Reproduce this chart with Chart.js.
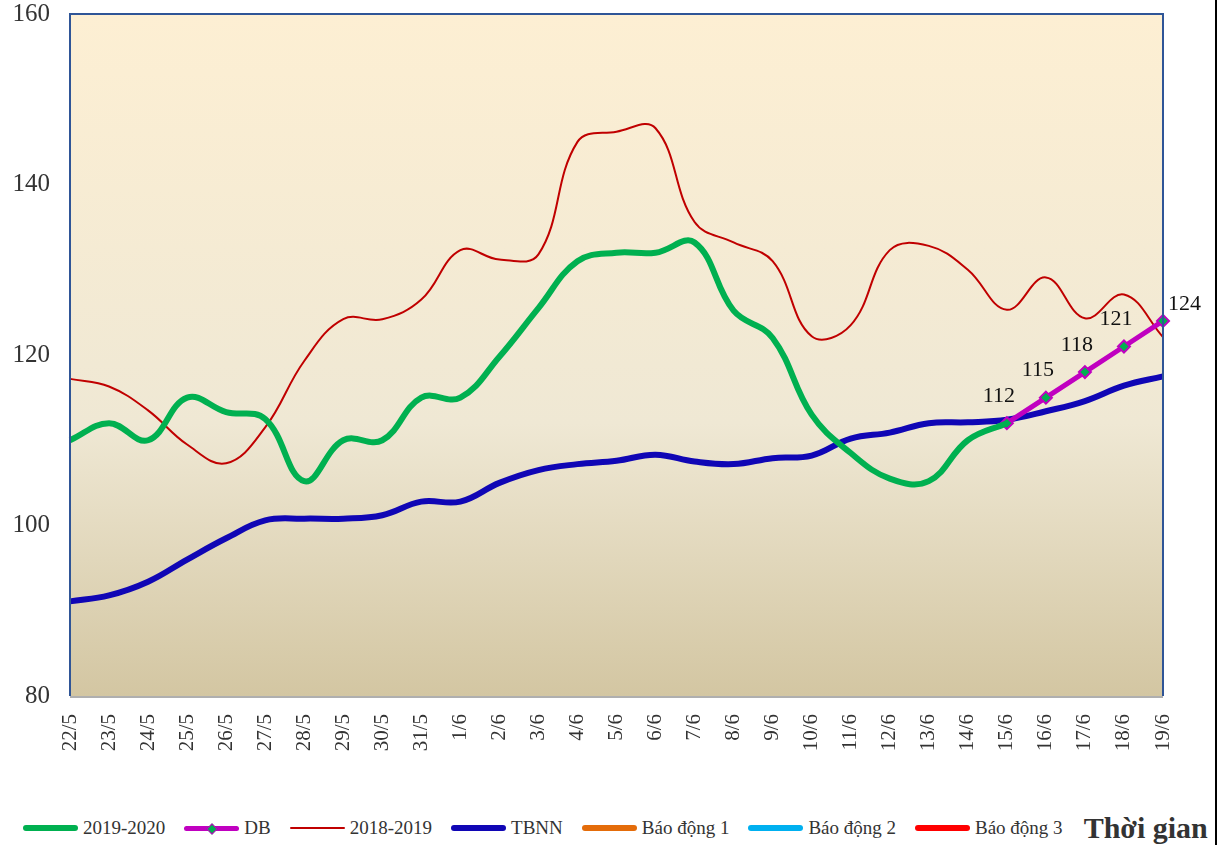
<!DOCTYPE html>
<html>
<head>
<meta charset="utf-8">
<script src="https://cdn.jsdelivr.net/npm/chart.js@4/dist/chart.umd.min.js"></script>
<style>
  html, body { margin: 0; padding: 0; background: #fff; }
  body { width: 1227px; height: 845px; position: relative; overflow: hidden; font-family: "Liberation Serif", "Times New Roman", serif; }
  #wrap { position: absolute; left: 0; top: 0; width: 1227px; height: 800px; }
  #frame { position: absolute; left: 1215px; top: 0; width: 2px; height: 845px; background: #000; }
  #legend { position: absolute; left: 23px; top: 813px; height: 30px; display: flex; align-items: center; gap: 19px; color: #333; font-size: 19px; white-space: nowrap; }
  .item { display: flex; align-items: center; gap: 5px; }
  .swatch { position: relative; width: 55px; border-radius: 4px; }
  .diamond { position: absolute; left: 24px; top: 50%; width: 6px; height: 6px; margin-top: -3px; transform: rotate(45deg); background: #00B050; border: 1px solid #C000C0; }
  .title { font-weight: bold; font-size: 30px; color: #333; margin-left: 2px; }
</style>
</head>
<body>
<div id="wrap"><canvas id="chart"></canvas></div>
<div id="frame"></div>
<div id="legend"></div>
<script>
const dates = ['22/5', '23/5', '24/5', '25/5', '26/5', '27/5', '28/5', '29/5', '30/5', '31/5',
  '1/6', '2/6', '3/6', '4/6', '5/6', '6/6', '7/6', '8/6', '9/6', '10/6',
  '11/6', '12/6', '13/6', '14/6', '15/6', '16/6', '17/6', '18/6', '19/6'];

const level2020 = [110, 112, 110, 115, 113.3, 112.5, 105.2, 110, 110, 115,
  115, 119.8, 125.5, 131, 132, 132, 133.2, 125.2, 122, 113,
  108.5, 105.5, 105.2, 110, 112, null, null, null, null];

const forecastDB = [null, null, null, null, null, null, null, null, null, null,
  null, null, null, null, null, null, null, null, null, null,
  null, null, null, null, 112, 115, 118, 121, 124];

const level2019 = [117.2, 116.3, 113.5, 109.5, 107.3, 111.5, 119.3, 124.2, 124.2, 126.5,
  132.3, 131.2, 131.8, 145, 146.2, 146.6, 135.6, 133.2, 131, 122.2,
  123.5, 132.3, 132.8, 130, 125.3, 129.1, 124.3, 127.1, 122.1];

const avgTBNN = [91.1, 91.8, 93.4, 96, 98.5, 100.6, 100.8, 100.8, 101.2, 102.8,
  102.8, 105, 106.5, 107.2, 107.6, 108.3, 107.5, 107.2, 107.9, 108.2,
  110.2, 110.9, 112, 112.1, 112.4, 113.4, 114.6, 116.4, 117.5];

// alarm levels lie above the plotted range, they only show in the legend
const alarm1 = [];
const alarm2 = [];
const alarm3 = [];

const yTicks = [80, 100, 120, 140, 160];
const xTitle = 'Thời gian';

const bgPlugin = {
  id: 'plotBg',
  beforeDraw(chart) {
    const { ctx, chartArea: a } = chart;
    const g = ctx.createLinearGradient(0, a.top, 0, a.bottom);
    g.addColorStop(0, '#FDEFD3');
    g.addColorStop(0.6, '#EFE8D4');
    g.addColorStop(1, '#D3C6A2');
    ctx.save();
    ctx.fillStyle = g;
    ctx.fillRect(a.left, a.top, a.right - a.left, a.bottom - a.top);
    ctx.restore();
  },
  afterDraw(chart) {
    const { ctx, chartArea: a } = chart;
    ctx.save();
    ctx.lineWidth = 2;
    ctx.strokeStyle = '#AFAFAF';
    ctx.beginPath();
    ctx.moveTo(a.left, a.bottom + 1);
    ctx.lineTo(a.right, a.bottom + 1);
    ctx.stroke();
    ctx.strokeStyle = '#2F5597';
    ctx.beginPath();
    ctx.moveTo(a.left, a.bottom);
    ctx.lineTo(a.left, a.top);
    ctx.lineTo(a.right, a.top);
    ctx.lineTo(a.right, a.bottom);
    ctx.stroke();
    ctx.restore();
  }
};

// value labels next to the DB forecast points
const dbLabels = {
  id: 'dbLabels',
  afterDatasetsDraw(chart) {
    const { ctx } = chart;
    const meta = chart.getDatasetMeta(1);
    const last = forecastDB.length - 1;
    ctx.save();
    ctx.font = '22px "Liberation Serif"';
    ctx.fillStyle = '#111';
    ctx.textBaseline = 'bottom';
    forecastDB.forEach((v, i) => {
      if (v === null) return;
      const p = meta.data[i];
      if (i === last) {
        ctx.textAlign = 'left';
        ctx.fillText(String(v), p.x + 5, p.y - 6);
      } else {
        ctx.textAlign = 'center';
        ctx.fillText(String(v), p.x - 8, p.y - 16);
      }
    });
    ctx.restore();
  }
};

const chart = new Chart(document.getElementById('chart'), {
  type: 'line',
  data: {
    labels: dates,
    datasets: [
      { label: '2019-2020', data: level2020, borderColor: '#00B050', borderWidth: 6, pointRadius: 0, tension: 0.4 },
      { label: 'DB', data: forecastDB, borderColor: '#C000C0', borderWidth: 5, tension: 0,
        pointStyle: 'rectRot', pointRadius: 6, pointBackgroundColor: '#00B050', pointBorderColor: '#C000C0', pointBorderWidth: 2 },
      { label: '2018-2019', data: level2019, borderColor: '#C00000', borderWidth: 2, pointRadius: 0, tension: 0.4 },
      { label: 'TBNN', data: avgTBNN, borderColor: '#1006B5', borderWidth: 6, pointRadius: 0, tension: 0.4 },
      { label: 'Báo động 1', data: alarm1, borderColor: '#E46C0A', borderWidth: 6, pointRadius: 0 },
      { label: 'Báo động 2', data: alarm2, borderColor: '#00B0F0', borderWidth: 6, pointRadius: 0 },
      { label: 'Báo động 3', data: alarm3, borderColor: '#FF0000', borderWidth: 6, pointRadius: 0 }
    ]
  },
  options: {
    responsive: true,
    maintainAspectRatio: false,
    animation: false,
    layout: { padding: { top: 14, right: 64, left: 0, bottom: 0 } },
    plugins: { legend: { display: false }, tooltip: { enabled: false } },
    scales: {
      x: {
        offset: false,
        grid: { display: false, drawTicks: false },
        border: { display: false },
        ticks: { maxRotation: 90, minRotation: 90, autoSkip: false, padding: 18, color: '#333',
          font: { family: 'Liberation Serif', size: 21 } },
        afterFit(scale) { scale.height = 104; scale.paddingLeft = 0; scale.paddingRight = 0; }
      },
      y: {
        min: 80, max: 160,
        afterBuildTicks(scale) { scale.ticks = yTicks.map(v => ({ value: v })); },
        grid: { display: false, drawTicks: false },
        border: { display: false },
        ticks: { padding: 20, color: '#333', font: { family: 'Liberation Serif', size: 25 } },
        afterFit(scale) { scale.width = 70; scale.paddingTop = 0; scale.paddingBottom = 0; }
      }
    }
  },
  plugins: [bgPlugin, dbLabels]
});

// html legend built from the datasets
const legend = document.getElementById('legend');
chart.data.datasets.forEach(ds => {
  const item = document.createElement('div');
  item.className = 'item';
  const sw = document.createElement('span');
  sw.className = 'swatch';
  sw.style.height = ds.borderWidth + 'px';
  sw.style.background = ds.borderColor;
  if (ds.pointStyle === 'rectRot') {
    const d = document.createElement('span');
    d.className = 'diamond';
    sw.appendChild(d);
  }
  const txt = document.createElement('span');
  txt.textContent = ds.label;
  item.appendChild(sw);
  item.appendChild(txt);
  legend.appendChild(item);
});
const title = document.createElement('span');
title.className = 'title';
title.textContent = xTitle;
legend.appendChild(title);
</script>
</body>
</html>
